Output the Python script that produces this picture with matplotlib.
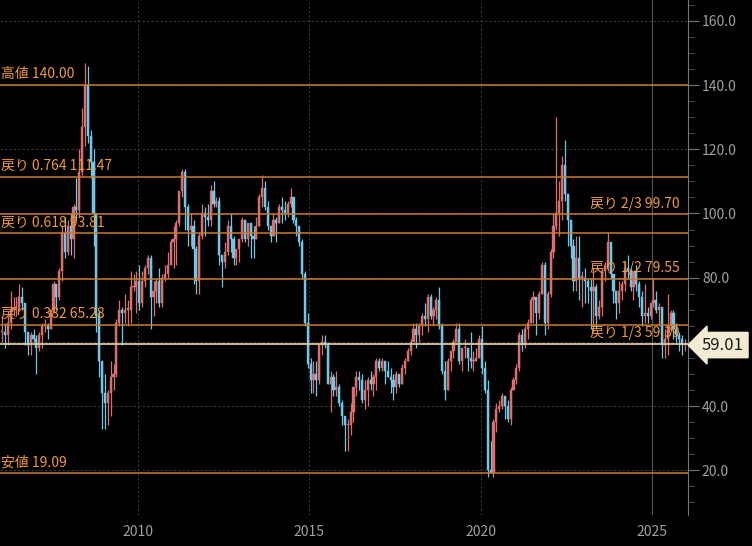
import matplotlib
matplotlib.use("Agg")
import matplotlib.pyplot as plt
import numpy as np

plt.rcParams['font.family'] = ['Noto Sans CJK JP', 'DejaVu Sans']

start_year = 2006
close = [
 63,62,66,70,70,71,74,72,63,59,62,61,
 58,62,65,65,64,70,78,74,82,94,88,96,
 92,102,101,113,127,140,124,116,100,68,54,44,
 41,44,49,50,66,70,69,70,70,77,77,79,
 72,79,83,86,74,76,79,72,80,81,84,91,
 92,97,107,113,102,95,96,89,79,93,100,99,
 98,107,103,104,87,85,88,96,92,86,89,92,
 98,92,97,93,92,96,105,108,102,96,93,98,
 97,102,101,100,103,105,98,96,91,81,66,53,
 48,50,48,59,60,59,47,49,45,46,41,37,
 34,34,38,46,49,48,42,45,48,47,49,54,
 52,54,51,49,48,46,50,47,52,54,57,60,
 64,62,65,68,67,74,68,70,73,65,51,45,
 54,57,60,64,54,58,58,55,54,54,55,61,
 52,45,20,19,35,39,40,43,40,36,45,48,
 52,62,59,64,66,73,74,69,75,84,66,75,
 88,96,100,104,115,106,98,90,79,86,80,80,
 79,77,76,77,68,71,82,84,91,81,76,72,
 76,78,83,82,77,82,78,74,68,69,68,72,
 73,70,71,59,61,65,69,64,62,61,59,59.01,
]
high = [
 68,66,68,76,74,74,78,77,72,63,63,64,
 62,63,66,67,66,70,79,78,83,96,99,98,
 100,103,111,120,133,147,146,126,120,100,70,54,
 50,45,54,53,67,73,71,75,73,82,81,82,
 84,82,84,87,87,79,80,83,81,84,88,92,
 96,98,107,114,114,103,100,98,90,94,103,102,
 103,109,110,105,105,86,91,98,100,93,89,92,
 99,98,97,97,96,99,106,112,110,104,96,100,
 99,103,105,104,104,108,105,99,96,92,82,69,
 55,54,54,59,62,62,60,51,50,51,47,42,
 37,36,41,46,51,51,50,48,49,51,50,55,
 55,55,54,54,52,50,51,50,53,55,58,61,
 66,66,66,69,72,75,75,71,74,77,66,54,
 55,57,61,66,66,58,61,58,63,57,58,62,
 65,54,48,29,36,41,42,44,43,42,46,49,
 53,63,64,65,67,74,76,74,76,85,85,76,
 89,100,130,110,118,123,106,97,92,93,93,82,
 83,80,80,83,78,73,83,85,94,90,79,76,
 79,79,85,87,83,82,84,79,76,78,71,72,
 80,76,72,71,64,75,70,70,66,63,62,61,
]
low = [
 60,58,59,64,68,68,70,70,59,56,56,60,
 50,57,58,63,61,64,69,70,73,79,86,87,
 87,86,98,99,112,121,122,111,90,63,49,33,
 33,34,37,45,49,65,59,66,65,66,76,69,
 70,71,77,81,64,68,72,71,71,79,80,84,
 83,84,96,105,95,90,90,78,75,75,92,93,
 96,96,102,102,84,77,83,87,88,84,84,85,
 91,91,90,86,86,92,96,102,101,95,91,93,
 91,97,97,98,99,102,97,93,90,80,65,52,
 44,44,43,47,56,58,47,38,43,43,40,34,
 26,26,31,35,43,45,41,39,40,45,43,45,
 51,51,47,49,44,42,44,46,47,50,54,56,
 61,58,60,62,65,63,67,65,67,64,50,42,
 45,51,55,60,53,51,55,51,52,51,54,55,
 50,44,18,19,18,32,38,39,36,35,34,45,
 47,51,57,58,61,66,66,62,67,75,62,64,
 74,86,95,93,98,104,90,86,76,76,73,71,
 72,72,64,63,64,67,68,79,82,80,72,67,
 69,73,76,80,76,73,76,71,65,66,66,67,
 71,69,65,55,55,56,63,61,60,57,56,57,
]

level_names = ['高値 140.00', '戻り 0.764 111.47', '戻り 2/3 99.70', '戻り 0.618 93.81',
               '戻り 1/2 79.55', '戻り 0.382 65.28', '戻り 1/3 59.39', '安値 19.09']
level_values = [140.00, 111.47, 99.70, 93.81, 79.55, 65.28, 59.39, 19.09]
label_left = [True, True, False, True, False, True, False, True]
last_price = 59.01
y_ticks = [20, 40, 60, 80, 100, 120, 140, 160]

bg = '#000000'
fig = plt.figure(figsize=(7.52, 5.46), dpi=100, facecolor=bg)
ax = fig.add_axes([0, 0.057, 688/752, 0.943])
ax.set_facecolor(bg)

n = len(close)
t = start_year + (np.arange(n) + 0.5) / 12.0
opens = [close[0]] + close[:-1]
up_c, dn_c = '#d9706e', '#74c6e6'
w = 1 / 12 * 0.75
for i in range(n):
    o, c, h, l = opens[i], close[i], high[i], low[i]
    col = up_c if c >= o else dn_c
    ax.vlines(t[i], l, h, color=col, lw=0.9, zorder=3)
    ax.bar(t[i], max(abs(c - o), 0.4), bottom=min(o, c), width=w, color=col, edgecolor=col, lw=0.3, zorder=3)

for yv in y_ticks:
    ax.axhline(yv, color='#3a3a3a', lw=0.8, ls=(0, (2, 2)), zorder=1)
for xv in [2010, 2015, 2020]:
    ax.axvline(xv, color='#3a3a3a', lw=0.8, ls=(0, (2, 2)), zorder=1)
ax.axvline(2025, color='#555555', lw=0.8, zorder=1)

for name, v, left in zip(level_names, level_values, label_left):
    col = '#d8c9a0' if v == 59.39 else '#c97a2e'
    ax.axhline(v, color=col, lw=1.3 if v == 59.39 else 1.1, zorder=4)
    xt = 2006.0 if left else 2023.2
    ax.text(xt, v + 1.2, name, color='#ef9a36', fontsize=10, va='bottom', ha='left', zorder=5)

ax.set_xlim(2005.98, 2026.05)
ax.set_ylim(6.1, 166.5)
ax.yaxis.tick_right()
ax.set_yticks(y_ticks)
ax.set_yticklabels(['' if v == 60 else f'{v:.1f}' for v in y_ticks], color='#a0a0a0', fontsize=10)
ax.set_yticks(np.arange(10, 166, 5), minor=True)
ax.tick_params(axis='y', which='major', length=8, color='#777777', pad=2)
ax.tick_params(axis='y', which='minor', length=4, color='#555555')
ax.set_xticks([2010, 2015, 2020, 2025])
ax.set_xticklabels(['2010', '2015', '2020', '2025'], color='#a0a0a0', fontsize=10)
ax.tick_params(axis='x', length=0, pad=7)
for s in ['top', 'left', 'bottom']:
    ax.spines[s].set_visible(False)
ax.spines['right'].set_color('#777777')

ax.annotate(f'{last_price:.2f}', xy=(1.0, last_price), xycoords=('axes fraction', 'data'),
            xytext=(10, 0), textcoords='offset points', va='center', ha='left',
            color='#1a1a1a', fontsize=12,
            bbox=dict(boxstyle='larrow,pad=0.25', fc='#f2ead2', ec='#f2ead2'), zorder=6)

fig.savefig('out.png', dpi=100, facecolor=bg)
